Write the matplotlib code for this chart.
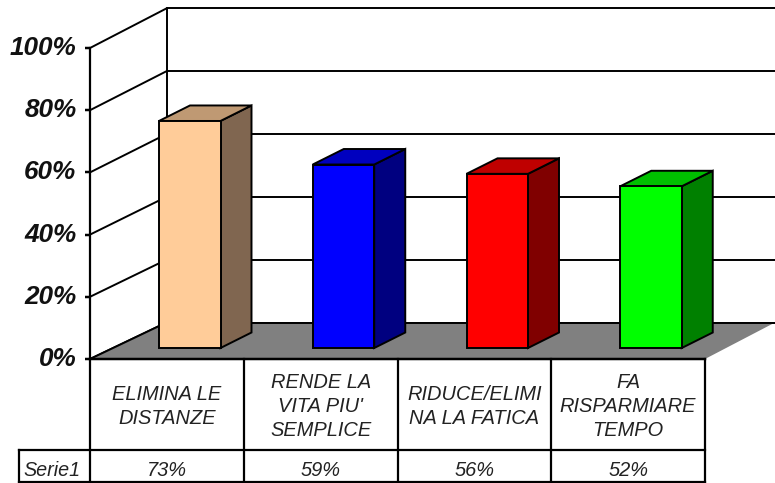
import matplotlib
matplotlib.use("Agg")
import matplotlib.pyplot as plt
from matplotlib.patches import Polygon

categories = ["ELIMINA LE\nDISTANZE", "RENDE LA\nVITA PIU'\nSEMPLICE", "RIDUCE/ELIMI\nNA LA FATICA", "FA\nRISPARMIARE\nTEMPO"]
values = [73, 59, 56, 52]
value_labels = ["73%", "59%", "56%", "52%"]
series_name = "Serie1"
ticks = [0, 20, 40, 60, 80, 100]
front_colors = ["#FFCC99", "#0000FF", "#FF0000", "#00FF00"]
top_colors = ["#BF9973", "#0000BF", "#BF0000", "#00BF00"]
side_colors = ["#806650", "#000080", "#800000", "#008000"]

# scales: one category = 153.75 px, one percent = 3.11 px, 0% sits at pixel row 359
PX_CAT = 153.75
PX_PCT = 3.11
X0 = 90
Y0 = 359

def cat_x(p):
    return (p - X0) / PX_CAT

def pct_y(p):
    return (Y0 - p) / PX_PCT

plt.rcParams["font.family"] = ["Liberation Sans", "DejaVu Sans"]
fig = plt.figure(figsize=(7.75, 4.83), dpi=100)
ax = fig.add_axes([0, 0, 1, 1])
ax.set_xlim(cat_x(0), cat_x(775))
ax.set_ylim(pct_y(483), pct_y(0))
ax.axis("off")

lw = 1.4
n = len(categories)
back_dx = 76.5 / PX_CAT      # depth of the walls
back_dy = 36.5 / PX_PCT
back_scale = 1.01
bar_dx = 31 / PX_CAT         # depth of each bar
bar_dy = 15.5 / PX_PCT
bar_w = 61.5 / PX_CAT
bar_off = 69 / PX_CAT        # left edge of bar inside its column
bar_base = pct_y(348)
floor_right = cat_x(775)

def back_y(v):
    return back_dy + v * back_scale

# walls
for v in ticks:
    ax.plot([0, back_dx], [v, back_y(v)], color="black", lw=lw, zorder=2, solid_capstyle="butt")
    ax.plot([back_dx, floor_right], [back_y(v), back_y(v)], color="black", lw=lw, zorder=2, solid_capstyle="butt")
    ax.plot([cat_x(85), 0], [v, v], color="black", lw=lw + 0.4, zorder=2, solid_capstyle="butt")
    ax.text(cat_x(76.5), v, f"{v}%", ha="right", va="center", fontsize=18.8, fontweight="bold",
            fontstyle="italic", color="#111111")
ax.plot([back_dx, back_dx], [back_y(0), back_y(100)], color="black", lw=lw, zorder=2)

# floor
floor = Polygon([(0, 0), (back_dx, back_y(0)), (floor_right, back_y(0)), (n, 0)],
                closed=True, facecolor="#808080", edgecolor="none", zorder=3)
ax.add_patch(floor)
ax.plot([0, back_dx], [0, back_y(0)], color="black", lw=lw, zorder=3)
ax.plot([back_dx, floor_right], [back_y(0), back_y(0)], color="black", lw=lw, zorder=3)

# bars stand on the floor, so their height counts from bar_base
lefts = [i + bar_off for i in range(n)]
for i in range(n):
    x = lefts[i]
    top = bar_base + values[i]
    side = Polygon([(x + bar_w, bar_base), (x + bar_w + bar_dx, bar_base + bar_dy),
                    (x + bar_w + bar_dx, top + bar_dy), (x + bar_w, top)],
                   closed=True, facecolor=side_colors[i], edgecolor="black", lw=lw, zorder=4)
    cap = Polygon([(x, top), (x + bar_dx, top + bar_dy), (x + bar_w + bar_dx, top + bar_dy), (x + bar_w, top)],
                  closed=True, facecolor=top_colors[i], edgecolor="black", lw=lw, zorder=4)
    ax.add_patch(side)
    ax.add_patch(cap)
ax.bar(lefts, values, width=bar_w, bottom=bar_base, align="edge",
       color=front_colors, edgecolor="black", lw=lw, zorder=5)

# data table under the chart
row_y = pct_y(450)
bottom_y = pct_y(481.5)
ax.plot([0, 0], [100, bottom_y], color="black", lw=lw + 0.2, zorder=6)
for i in range(1, n + 1):
    ax.plot([i, i], [0, bottom_y], color="black", lw=lw + 0.2, zorder=6)
ax.plot([0, n], [0, 0], color="black", lw=lw + 0.4, zorder=6)
ax.plot([cat_x(18.5), n], [row_y, row_y], color="black", lw=lw + 0.2, zorder=6)
ax.plot([cat_x(18.5), n], [bottom_y, bottom_y], color="black", lw=lw + 0.2, zorder=6)
ax.plot([cat_x(18.5), cat_x(18.5)], [row_y, bottom_y], color="black", lw=lw + 0.2, zorder=6)

for i in range(n):
    ax.text(i + 0.5, pct_y(406.5), categories[i], ha="center", va="center", fontsize=14.4,
            fontstyle="italic", color="#222222", linespacing=1.33)
    ax.text(i + 0.5, pct_y(470), value_labels[i], ha="center", va="center", fontsize=14.4,
            fontstyle="italic", color="#222222")
ax.text(cat_x(52), pct_y(471), series_name, ha="center", va="center", fontsize=14.2,
        fontstyle="italic", color="#222222")

fig.savefig("out.png", dpi=100)
